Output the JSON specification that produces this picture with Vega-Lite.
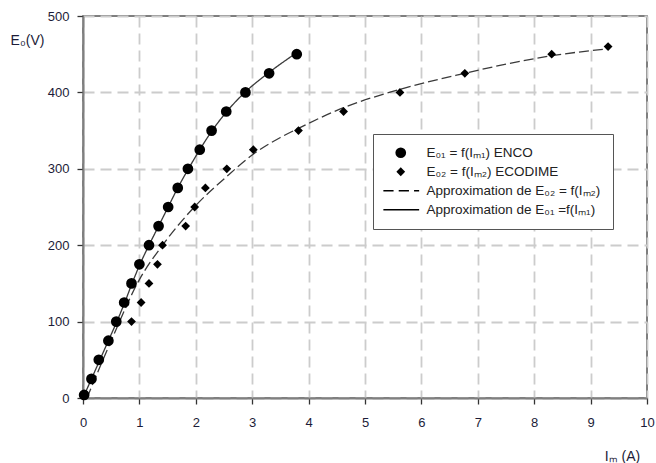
{
  "$schema": "https://vega.github.io/schema/vega-lite/v6.json",
  "width": 564,
  "height": 382,
  "autosize": {"type": "none"},
  "padding": {"left": 83, "top": 16, "right": 9, "bottom": 65},
  "background": "white",
  "config": {
    "font": "Liberation Sans",
    "view": {"stroke": "#555555", "strokeWidth": 1.5},
    "axis": {
      "grid": true,
      "gridColor": "#cccccc",
      "gridDash": [11, 6],
      "gridWidth": 1.8,
      "domainColor": "#808080",
      "domainWidth": 2,
      "tickColor": "#333333",
      "tickSize": 6,
      "tickWidth": 1.3,
      "labelFont": "Liberation Sans",
      "labelFontSize": 13,
      "labelColor": "#1c1c38",
      "labelFlush": false,
      "labelOverlap": false,
      "titleFont": "Liberation Sans",
      "titleFontSize": 14,
      "titleFontWeight": "normal",
      "titleColor": "#1c1c38"
    }
  },
  "datasets": {
    "points": [
      {"I": 0.02, "E": 4, "series": "E₀₁ = f(Iₘ₁)  ENCO"},
      {"I": 0.15, "E": 25, "series": "E₀₁ = f(Iₘ₁)  ENCO"},
      {"I": 0.28, "E": 50, "series": "E₀₁ = f(Iₘ₁)  ENCO"},
      {"I": 0.45, "E": 75, "series": "E₀₁ = f(Iₘ₁)  ENCO"},
      {"I": 0.59, "E": 100, "series": "E₀₁ = f(Iₘ₁)  ENCO"},
      {"I": 0.73, "E": 125, "series": "E₀₁ = f(Iₘ₁)  ENCO"},
      {"I": 0.86, "E": 150, "series": "E₀₁ = f(Iₘ₁)  ENCO"},
      {"I": 1.0, "E": 175, "series": "E₀₁ = f(Iₘ₁)  ENCO"},
      {"I": 1.17, "E": 200, "series": "E₀₁ = f(Iₘ₁)  ENCO"},
      {"I": 1.34, "E": 225, "series": "E₀₁ = f(Iₘ₁)  ENCO"},
      {"I": 1.51, "E": 250, "series": "E₀₁ = f(Iₘ₁)  ENCO"},
      {"I": 1.68, "E": 275, "series": "E₀₁ = f(Iₘ₁)  ENCO"},
      {"I": 1.86, "E": 300, "series": "E₀₁ = f(Iₘ₁)  ENCO"},
      {"I": 2.07, "E": 325, "series": "E₀₁ = f(Iₘ₁)  ENCO"},
      {"I": 2.28, "E": 350, "series": "E₀₁ = f(Iₘ₁)  ENCO"},
      {"I": 2.54, "E": 375, "series": "E₀₁ = f(Iₘ₁)  ENCO"},
      {"I": 2.88, "E": 400, "series": "E₀₁ = f(Iₘ₁)  ENCO"},
      {"I": 3.3, "E": 425, "series": "E₀₁ = f(Iₘ₁)  ENCO"},
      {"I": 3.79, "E": 450, "series": "E₀₁ = f(Iₘ₁)  ENCO"},
      {"I": 0.86, "E": 100, "series": "E₀₂ = f(Iₘ₂) ECODIME"},
      {"I": 1.03, "E": 125, "series": "E₀₂ = f(Iₘ₂) ECODIME"},
      {"I": 1.17, "E": 150, "series": "E₀₂ = f(Iₘ₂) ECODIME"},
      {"I": 1.32, "E": 175, "series": "E₀₂ = f(Iₘ₂) ECODIME"},
      {"I": 1.41, "E": 200, "series": "E₀₂ = f(Iₘ₂) ECODIME"},
      {"I": 1.82, "E": 225, "series": "E₀₂ = f(Iₘ₂) ECODIME"},
      {"I": 1.98, "E": 250, "series": "E₀₂ = f(Iₘ₂) ECODIME"},
      {"I": 2.17, "E": 275, "series": "E₀₂ = f(Iₘ₂) ECODIME"},
      {"I": 2.55, "E": 300, "series": "E₀₂ = f(Iₘ₂) ECODIME"},
      {"I": 3.02, "E": 325, "series": "E₀₂ = f(Iₘ₂) ECODIME"},
      {"I": 3.82, "E": 350, "series": "E₀₂ = f(Iₘ₂) ECODIME"},
      {"I": 4.62, "E": 375, "series": "E₀₂ = f(Iₘ₂) ECODIME"},
      {"I": 5.62, "E": 400, "series": "E₀₂ = f(Iₘ₂) ECODIME"},
      {"I": 6.77, "E": 425, "series": "E₀₂ = f(Iₘ₂) ECODIME"},
      {"I": 8.31, "E": 450, "series": "E₀₂ = f(Iₘ₂) ECODIME"},
      {"I": 9.31, "E": 460, "series": "E₀₂ = f(Iₘ₂) ECODIME"}
    ],
    "fits": [
      {"I": 0.0, "E": 0, "series": "solid"},
      {"I": 0.15, "E": 25, "series": "solid"},
      {"I": 0.3, "E": 50, "series": "solid"},
      {"I": 0.45, "E": 75, "series": "solid"},
      {"I": 0.6, "E": 100, "series": "solid"},
      {"I": 0.74, "E": 125, "series": "solid"},
      {"I": 0.87, "E": 150, "series": "solid"},
      {"I": 1.01, "E": 175, "series": "solid"},
      {"I": 1.17, "E": 200, "series": "solid"},
      {"I": 1.34, "E": 225, "series": "solid"},
      {"I": 1.51, "E": 250, "series": "solid"},
      {"I": 1.68, "E": 275, "series": "solid"},
      {"I": 1.87, "E": 300, "series": "solid"},
      {"I": 2.07, "E": 325, "series": "solid"},
      {"I": 2.29, "E": 350, "series": "solid"},
      {"I": 2.55, "E": 375, "series": "solid"},
      {"I": 2.87, "E": 400, "series": "solid"},
      {"I": 3.28, "E": 425, "series": "solid"},
      {"I": 3.79, "E": 452, "series": "solid"},
      {"I": 0.07, "E": 0, "series": "dash"},
      {"I": 0.5, "E": 75, "series": "dash"},
      {"I": 1.0, "E": 155, "series": "dash"},
      {"I": 1.41, "E": 200, "series": "dash"},
      {"I": 2.0, "E": 252, "series": "dash"},
      {"I": 2.55, "E": 290, "series": "dash"},
      {"I": 3.0, "E": 318, "series": "dash"},
      {"I": 3.5, "E": 341, "series": "dash"},
      {"I": 3.82, "E": 353, "series": "dash"},
      {"I": 4.62, "E": 380, "series": "dash"},
      {"I": 5.62, "E": 404, "series": "dash"},
      {"I": 6.77, "E": 425, "series": "dash"},
      {"I": 7.5, "E": 437, "series": "dash"},
      {"I": 8.31, "E": 448, "series": "dash"},
      {"I": 9.31, "E": 457, "series": "dash"}
    ]
  },
  "layer": [
    {
      "data": {"name": "fits"},
      "mark": {"type": "line", "interpolate": "monotone", "strokeWidth": 1.3, "color": "#3a3a3a"},
      "encoding": {
        "x": {
          "field": "I", "type": "quantitative",
          "scale": {"domain": [0, 10], "nice": false},
          "axis": {
            "values": [0, 1, 2, 3, 4, 5, 6, 7, 8, 9, 10],
            "format": "d",
            "labelPadding": 12,
            "title": "Iₘ (A)",
            "titleAngle": 0,
            "titleAlign": "center",
            "titleBaseline": "middle",
            "titleX": 539,
            "titleY": 58
          }
        },
        "y": {
          "field": "E", "type": "quantitative",
          "scale": {"domain": [0, 500], "nice": false},
          "axis": {
            "values": [0, 100, 200, 300, 400, 500],
            "format": "d",
            "labelPadding": 8,
            "title": "E₀(V)",
            "titleAngle": 0,
            "titleAlign": "center",
            "titleBaseline": "middle",
            "titleX": -56,
            "titleY": 24
          }
        },
        "strokeDash": {
          "field": "series", "type": "nominal",
          "scale": {"domain": ["dash", "solid"], "range": [[10, 4], [1, 0]]},
          "legend": null
        }
      }
    },
    {
      "data": {"name": "points"},
      "mark": {"type": "point", "filled": true, "size": 115, "color": "black", "opacity": 1},
      "encoding": {
        "x": {"field": "I", "type": "quantitative"},
        "y": {"field": "E", "type": "quantitative"},
        "shape": {
          "field": "series", "type": "nominal",
          "scale": {
            "domain": ["E₀₁ = f(Iₘ₁)  ENCO", "E₀₂ = f(Iₘ₂) ECODIME", "Approximation de E₀₂ = f(Iₘ₂)", "Approximation de E₀₁ =f(Iₘ₁)"],
            "range": [
              "circle",
              "M0,-0.82L0.82,0L0,0.82L-0.82,0Z",
              "M-3.24,-0.12H-1.34V0.12H-3.24ZM-0.38,-0.12H1.53V0.12H-0.38ZM2.48,-0.12H3.43V0.12H2.48Z",
              "M-3.24,-0.12H3.43V0.12H-3.24Z"
            ]
          },
          "legend": {
            "orient": "none",
            "legendX": 290,
            "legendY": 118,
            "title": null,
            "padding": 12,
            "strokeColor": "#555555",
            "fillColor": "white",
            "labelFont": "Liberation Sans",
            "labelFontSize": 13.5,
            "labelColor": "#222222",
            "labelLimit": 400,
            "symbolSize": 115,
            "symbolOffset": 9,
            "labelOffset": 19,
            "rowPadding": 4,
            "symbolFillColor": "black",
            "symbolStrokeColor": "black",
            "symbolStrokeWidth": 0
          }
        }
      }
    }
  ]
}
